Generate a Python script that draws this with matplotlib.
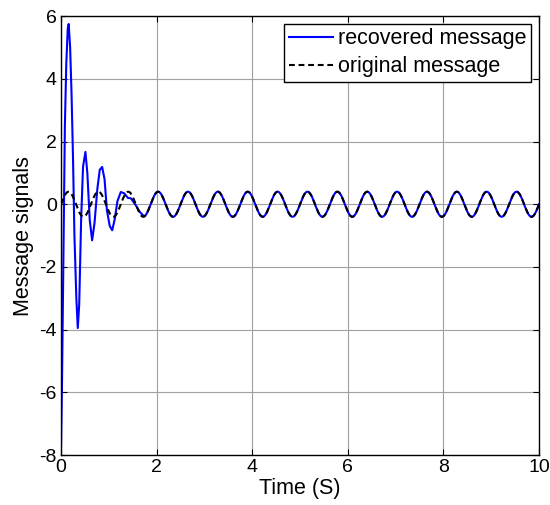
import numpy as np
import matplotlib.pyplot as plt

plt.rcParams['font.family'] = ['Liberation Sans', 'DejaVu Sans']
plt.rcParams['axes.unicode_minus'] = False

# original message: 0.4 amplitude tone at 1.6 Hz
msg_amp = 0.4
msg_freq = 1.6
t_end = 10.0

# recovered message during the start-up transient
t_trans = [0.0, 0.02, 0.04, 0.06, 0.08, 0.11, 0.14, 0.16, 0.19, 0.22, 0.25,
           0.28, 0.32, 0.35, 0.38, 0.42, 0.46, 0.51, 0.55, 0.60, 0.65, 0.70,
           0.76, 0.81, 0.86, 0.91, 0.96, 1.02, 1.07, 1.12, 1.18, 1.25, 1.32,
           1.40, 1.46, 1.55, 1.65]
y_trans = [-7.7, -5.7, -3.0, 0.0, 2.5, 4.5, 5.6, 5.75, 5.0, 3.5, 1.5,
           -1.0, -3.0, -3.95, -3.2, -0.5, 1.2, 1.67, 1.0, -0.5, -1.15, -0.6,
           0.5, 1.1, 1.19, 0.8, -0.2, -0.7, -0.83, -0.5, 0.1, 0.39, 0.35,
           0.2, 0.19, 0.0, -0.25]

xticks = [0, 2, 4, 6, 8, 10]
yticks = [-8, -6, -4, -2, 0, 2, 4, 6]

t = np.linspace(0, t_end, 2001)
original = msg_amp * np.sin(2 * np.pi * msg_freq * t)

# after the transient the recovered signal locks onto the original
t_lock = 1.74
t_rec = np.concatenate([t_trans, t[t >= t_lock]])
recovered = np.concatenate([y_trans, original[t >= t_lock]])

fig = plt.figure(figsize=(5.5, 5.05), dpi=100)
ax = fig.add_axes([0.111, 0.099, 0.869, 0.869])

ax.plot(t_rec, recovered, color='#0000ff', lw=1.5, label='recovered message')
ax.plot(t, original, color='black', lw=1.5, ls='--', dashes=(2.8, 1.8),
        label='original message')

ax.set_xlim(0, 10)
ax.set_ylim(-8, 6)
ax.set_xticks(xticks)
ax.set_yticks(yticks)
ax.grid(True, color='#a0a0a0', lw=0.8)
ax.tick_params(direction='in', top=True, right=True, length=4, labelsize=14,
               colors='black', pad=3)
for s in ax.spines.values():
    s.set_linewidth(1.0)

ax.set_xlabel('Time (S)', fontsize=15.5, labelpad=1)
ax.set_ylabel('Message signals', fontsize=15.5, labelpad=4)

leg = ax.legend(loc='upper right', fontsize=15.5, fancybox=False,
                framealpha=1, edgecolor='black', borderaxespad=0.35,
                handlelength=2.05, handletextpad=0.25, borderpad=0.22,
                labelspacing=0.32)
leg.get_frame().set_linewidth(1.0)

fig.savefig('out.png', dpi=100)
